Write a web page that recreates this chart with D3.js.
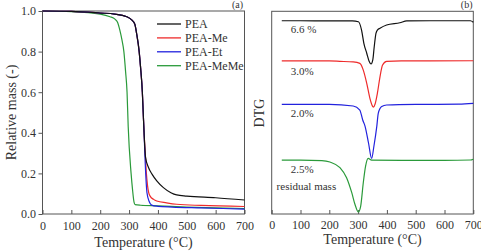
<!DOCTYPE html>
<html><head><meta charset="utf-8">
<script src="https://cdn.jsdelivr.net/npm/d3@7"></script>
<style>body{margin:0;background:#fff}svg{display:block}</style>
</head><body><svg id="c" width="481" height="252"></svg>
<script>
// ---- TGA (panel a) ----
const tgaNames = ["PEA","PEA-Me","PEA-Et","PEA-MeMe"];
const tgaColors = ["#111111","#ee2b2b","#2222dd","#2a9a3a"];
const peaT   = [0,100,200,250,292,310,320,326,335,340,346,349,352,357,367,380,396,419,445,465,500,600,700];
const peaV   = [1.0,0.998,0.99,0.985,0.972,0.955,0.935,0.89,0.8,0.72,0.6,0.5,0.4,0.28,0.23,0.195,0.163,0.13,0.105,0.094,0.088,0.08,0.069];
const peaMeT = [0,100,200,250,292,310,320,326,335,340,346,349,352,356,360,364,368,373,385,396,430,465,550,700];
const peaMeV = [1.0,0.998,0.99,0.985,0.972,0.955,0.935,0.89,0.8,0.72,0.6,0.5,0.4,0.3,0.2,0.14,0.105,0.088,0.072,0.064,0.055,0.048,0.042,0.037];
const peaEtT = [0,100,200,250,292,310,320,326,335,340,346,349,352,356,362,370,378,400,450,550,700];
const peaEtV = [1.0,0.998,0.99,0.985,0.972,0.955,0.935,0.89,0.8,0.72,0.6,0.5,0.4,0.25,0.105,0.06,0.044,0.038,0.034,0.03,0.024];
const peaMeMeT = [0,100,200,234,251,260,268,275,282,288,293,297,307,312,317,321,340,400,500,600,700];
const peaMeMeV = [1.0,0.997,0.985,0.972,0.96,0.945,0.906,0.86,0.8,0.7,0.6,0.43,0.2,0.12,0.06,0.046,0.043,0.04,0.034,0.03,0.027];
const tgaTicksX = [0,100,200,300,400,500,600,700];
const tgaTicksY = [0,0.2,0.4,0.6,0.8,1.0];

// ---- DTG (panel b), arbitrary offset units ----
const dtgBlackT = [35,100,200,280,301,312,320,330,339,345,351,356,362,367,376,399,445,469,550,690,700];
const dtgBlackV = [9.52,9.52,9.51,9.51,9.47,9.06,8.41,7.92,7.50,7.39,7.59,8.24,8.90,9.06,9.15,9.31,9.42,9.51,9.52,9.52,9.45];
const dtgRedT = [35,100,200,237,283,306,318,330,341,351,353,359,367,376,385,399,450,550,700];
const dtgRedV = [7.54,7.54,7.54,7.52,7.49,7.42,7.09,6.44,5.70,5.29,5.26,5.42,5.95,6.76,7.34,7.52,7.54,7.54,7.55];
const dtgBlueT = [35,100,200,283,306,316,324,336,347,355,365,370,382,399,500,650,700];
const dtgBlueV = [5.40,5.40,5.40,5.32,5.12,4.63,4.33,3.51,2.74,3.35,4.33,4.96,5.29,5.37,5.40,5.41,5.45];
const dtgGreenT = [35,100,174,202,237,260,278,289,301,309,318,326,335,347,450,600,690,700];
const dtgGreenV = [2.65,2.65,2.63,2.56,2.28,1.79,1.05,0.48,0.10,0.39,1.54,2.36,2.74,2.65,2.64,2.64,2.66,2.70];
const dtgLabels = ["6.6 %","3.0%","2.0%","2.5%","residual mass"];
const dtgLabelV = [8.90,6.83,4.76,2.02,1.18];

const FONT = "'Liberation Serif', Tinos, 'Times New Roman', Times, serif";
const svg = d3.select("#c");
const frame = "#555";

function panel(x0,x1,y0,y1){
  svg.append("rect").attr("x",x0).attr("y",y0).attr("width",x1-x0).attr("height",y1-y0)
    .attr("fill","none").attr("stroke",frame).attr("stroke-width",1);
}
function zip(T,V){return T.map((t,i)=>[t,V[i]]);}
function txt(x,y,s,size){
  return svg.append("text").attr("x",x).attr("y",y).attr("font-family",FONT).attr("font-size",size).attr("fill","#333").text(s);
}
function styleAxis(g){
  g.attr("font-family",FONT).attr("font-size",12);
  g.select(".domain").remove();
  g.selectAll("line").attr("stroke",frame);
  g.selectAll("text").attr("fill","#333");
}

// Panel a
const xa = d3.scaleLinear().domain([0,700]).range([42.5,244.5]);
const ya = d3.scaleLinear().domain([0,1]).range([214,11]);
panel(42.5,244.5,11,214);
styleAxis(svg.append("g").attr("transform","translate(0,214)")
  .call(d3.axisBottom(xa).tickValues(tgaTicksX).tickSizeInner(-4).tickSizeOuter(0).tickPadding(7)));
styleAxis(svg.append("g").attr("transform","translate(42.5,0)")
  .call(d3.axisLeft(ya).tickValues(tgaTicksY).tickFormat(d3.format(".1f")).tickSizeInner(4).tickSizeOuter(0).tickPadding(2.5)));

const la = d3.line().x(d=>xa(d[0])).y(d=>ya(d[1])).curve(d3.curveMonotoneX);
const tgaData = [zip(peaT,peaV),zip(peaMeT,peaMeV),zip(peaEtT,peaEtV),zip(peaMeMeT,peaMeMeV)];
[3,1,2,0].forEach(i=>{
  svg.append("path").attr("d",la(tgaData[i])).attr("fill","none").attr("stroke",tgaColors[i]).attr("stroke-width",1.2);
});
// legend
tgaNames.forEach((n,i)=>{
  const y = 24 + i*13.9;
  svg.append("line").attr("x1",157).attr("x2",181).attr("y1",y).attr("y2",y).attr("stroke",tgaColors[i]).attr("stroke-width",1.3);
  txt(185,y,n,12).attr("dy","0.35em");
});
txt(143.5,247,"Temperature (°C)",14).attr("text-anchor","middle");
txt(0,0,"Relative mass (-)",14).attr("transform","translate(11,112.5) rotate(-90)").attr("text-anchor","middle").attr("dy","0.35em");
txt(243,7.5,"(a)",10).attr("text-anchor","end");

// Panel b
const xb = d3.scaleLinear().domain([0,700]).range([271.7,473.3]);
const yb = d3.scaleLinear().domain([0,10]).range([214,11]);
panel(271.7,473.3,11.3,214);
styleAxis(svg.append("g").attr("transform","translate(0,214)")
  .call(d3.axisBottom(xb).tickValues(tgaTicksX).tickSizeInner(-4).tickSizeOuter(0).tickPadding(6)));
const lb = d3.line().x(d=>xb(d[0])).y(d=>yb(d[1])).curve(d3.curveMonotoneX);
const dtgData = [zip(dtgBlackT,dtgBlackV),zip(dtgRedT,dtgRedV),zip(dtgBlueT,dtgBlueV),zip(dtgGreenT,dtgGreenV)];
dtgData.forEach((d,i)=>{
  svg.append("path").attr("d",lb(d)).attr("fill","none").attr("stroke",tgaColors[i]).attr("stroke-width",1.2);
});
dtgLabels.forEach((t,i)=>{
  txt(i===4 ? xb(17) : xb(66), yb(dtgLabelV[i]), t, 11);
});
txt(372.5,243.5,"Temperature (°C)",14).attr("text-anchor","middle");
txt(0,0,"DTG",14).attr("transform","translate(259,113) rotate(-90)").attr("text-anchor","middle").attr("dy","0.35em");
txt(472.5,7.5,"(b)",10).attr("text-anchor","end");
</script></body></html>
